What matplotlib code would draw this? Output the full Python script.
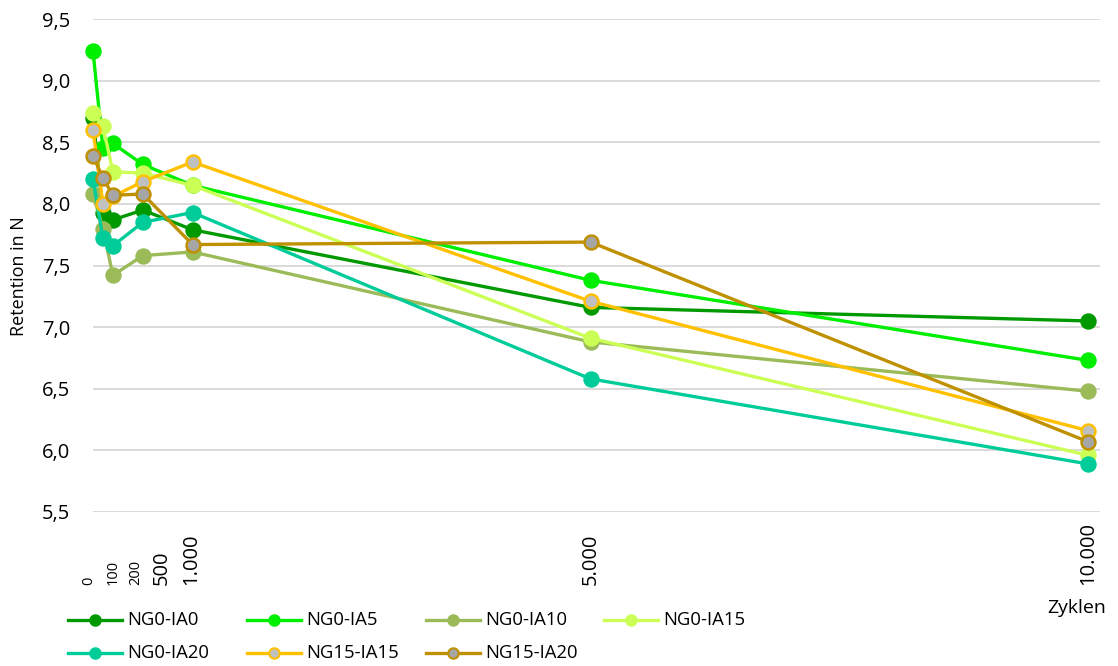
import matplotlib
matplotlib.use("Agg")
import matplotlib.pyplot as plt
from matplotlib.lines import Line2D
from matplotlib.transforms import blended_transform_factory, offset_copy

plt.rcParams['font.family'] = ['Open Sans', 'DejaVu Sans']

# Cycle counts and retention force per mixture
zyklen = [0, 100, 200, 500, 1000, 5000, 10000]
tick_labels = ["0", "100", "200", "500", "1.000", "5.000", "10.000"]
series_names = ["NG0-IA0", "NG0-IA5", "NG0-IA10", "NG0-IA15",
                "NG0-IA20", "NG15-IA15", "NG15-IA20"]
ng0_ia0 = [8.70, 7.93, 7.87, 7.95, 7.79, 7.16, 7.05]
ng0_ia5 = [9.24, 8.45, 8.49, 8.32, 8.15, 7.38, 6.73]
ng0_ia10 = [8.08, 7.80, 7.42, 7.58, 7.61, 6.88, 6.48]
ng0_ia15 = [8.74, 8.63, 8.26, 8.25, 8.15, 6.91, 5.96]
ng0_ia20 = [8.20, 7.72, 7.66, 7.85, 7.93, 6.58, 5.89]
ng15_ia15 = [8.60, 8.00, 8.06, 8.18, 8.34, 7.21, 6.16]
ng15_ia20 = [8.39, 8.21, 8.07, 8.08, 7.67, 7.69, 6.07]
values = [ng0_ia0, ng0_ia5, ng0_ia10, ng0_ia15, ng0_ia20, ng15_ia15, ng15_ia20]

line_colors = ["#009A00", "#00EE00", "#9BBB59", "#CCFF55",
               "#00CC99", "#FFC000", "#BF9000"]
face_colors = ["#009A00", "#00EE00", "#9BBB59", "#CCFF55",
               "#00CC99", "#C0C0C0", "#A6A6A6"]

# Horizontal nudges (pixels) that spread the crowded low-cycle labels apart
label_nudge_px = [-4, 10, 23, 19, -1, 0, 0]

W, H = 1118, 666
fig = plt.figure(figsize=(W / 100, H / 100), dpi=100)
ax = fig.add_axes([93 / W, 1 - 512 / H, (1100 - 93) / W, 493 / H])

for vals, lc, fc in zip(values, line_colors, face_colors):
    ax.plot(zyklen, vals, color=lc, lw=2.4, marker="o", markersize=10,
            markerfacecolor=fc, markeredgecolor=lc, markeredgewidth=1.8,
            clip_on=False, solid_joinstyle="round")

ax.set_xlim(0, 10120)
ax.set_ylim(5.5, 9.5)
ax.set_yticks([5.5, 6.0, 6.5, 7.0, 7.5, 8.0, 8.5, 9.0, 9.5])
ax.set_yticklabels([f"{v:.1f}".replace(".", ",") for v in ax.get_yticks()],
                   fontsize=14.5)
ax.tick_params(axis="y", length=0, pad=16.5)
ax.set_xticks([])
ax.grid(axis="y", color="#D9D9D9", lw=1.4)
ax.set_axisbelow(True)
for s in ax.spines.values():
    s.set_visible(False)

ax.set_ylabel("Retention in N", fontsize=13)
ax.yaxis.set_label_coords((28 - 93) / 1007, (512 - 276) / 493)

# Rotated cycle labels, anchored at a common baseline
trans = blended_transform_factory(ax.transData, ax.transAxes)
for xv, lab, dx in zip(zyklen, tick_labels, label_nudge_px):
    fs = 10.5 if xv < 500 else 14.5
    t = offset_copy(trans, fig=fig, x=dx * 0.72, y=0, units="points")
    ax.text(xv, -0.148, lab, rotation=90, ha="center", va="bottom",
            fontsize=fs, transform=t)

fig.text(1106 / W, 1 - 608 / H, "Zyklen", ha="right", va="center",
         fontsize=14)

# Legend in a fixed 4-column grid
col_x = [68, 247, 426, 604]
row_y = [620, 653]
for i, (name, lc, fc) in enumerate(zip(series_names, line_colors, face_colors)):
    r, c = divmod(i, 4)
    x0 = col_x[c]
    y0 = 1 - row_y[r] / H
    fig.add_artist(Line2D([x0 / W, (x0 + 54) / W], [y0, y0],
                          transform=fig.transFigure, color=lc, lw=2.4))
    fig.add_artist(Line2D([(x0 + 27) / W], [y0], transform=fig.transFigure,
                          marker="o", markersize=7.5, markerfacecolor=fc,
                          markeredgecolor=lc, markeredgewidth=1.5, lw=0))
    fig.text((x0 + 59) / W, y0, name, ha="left", va="center", fontsize=13.3)

fig.savefig("out.png", dpi=100)
